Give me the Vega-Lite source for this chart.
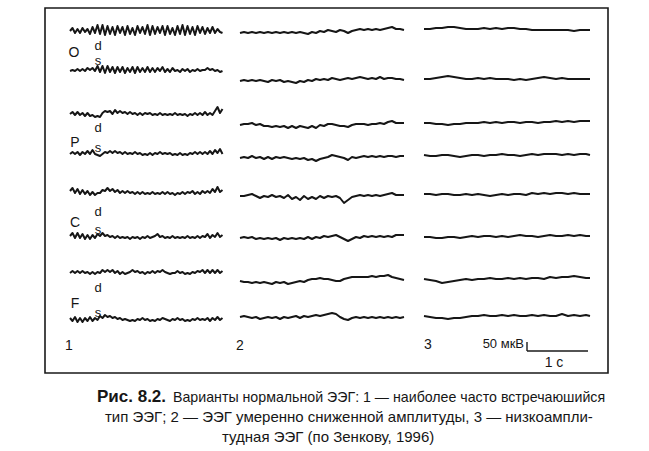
{
  "$schema": "https://vega.github.io/schema/vega-lite/v6.json",
  "width": 649,
  "height": 451,
  "padding": 0,
  "autosize": {"type": "fit", "contains": "padding"},
  "background": "white",
  "config": {"view": {"stroke": null}},
  "encoding": {
    "x": {"field": "x", "type": "quantitative", "scale": {"domain": [0, 649], "nice": false, "zero": false}, "axis": null},
    "y": {"field": "y", "type": "quantitative", "scale": {"domain": [0, 451], "nice": false, "zero": false, "reverse": true}, "axis": null}
  },
  "layer": [
    {
      "data": {"values": [{"x": 45, "x2": 608, "y": 8, "y2": 373}]},
      "mark": {"type": "rect", "filled": false, "stroke": "#1a1a1a", "strokeWidth": 1.6},
      "encoding": {"x2": {"field": "x2"}, "y2": {"field": "y2"}}
    },
    {
      "data": {"values": [{"x": 527, "x2": 527, "y": 342, "y2": 351}, {"x": 527, "x2": 588, "y": 351, "y2": 351}]},
      "mark": {"type": "rule", "stroke": "#1a1a1a", "strokeWidth": 1.4},
      "encoding": {"x2": {"field": "x2"}, "y2": {"field": "y2"}}
    },
    {
      "data": {"values": [
{"i":"1Od","x":70,"y":31},{"i":"1Od","x":72.5,"y":28},{"i":"1Od","x":75,"y":33},{"i":"1Od","x":77.5,"y":29},{"i":"1Od","x":80,"y":33},{"i":"1Od","x":82.5,"y":28},{"i":"1Od","x":85,"y":32},{"i":"1Od","x":87.5,"y":29},{"i":"1Od","x":90,"y":34},{"i":"1Od","x":92.5,"y":27},{"i":"1Od","x":95,"y":33},{"i":"1Od","x":97.5,"y":25},{"i":"1Od","x":100,"y":34},{"i":"1Od","x":102.5,"y":25},{"i":"1Od","x":105,"y":35},{"i":"1Od","x":107.5,"y":26},{"i":"1Od","x":110,"y":34},{"i":"1Od","x":112.5,"y":27},{"i":"1Od","x":115,"y":35},{"i":"1Od","x":117.5,"y":26},{"i":"1Od","x":120,"y":33},{"i":"1Od","x":122.5,"y":27},{"i":"1Od","x":125,"y":35},{"i":"1Od","x":127.5,"y":26},{"i":"1Od","x":130,"y":34},{"i":"1Od","x":132.5,"y":28},{"i":"1Od","x":135,"y":35},{"i":"1Od","x":137.5,"y":26},{"i":"1Od","x":140,"y":33},{"i":"1Od","x":142.5,"y":27},{"i":"1Od","x":145,"y":34},{"i":"1Od","x":147.5,"y":25},{"i":"1Od","x":150,"y":35},{"i":"1Od","x":152.5,"y":26},{"i":"1Od","x":155,"y":34},{"i":"1Od","x":157.5,"y":27},{"i":"1Od","x":160,"y":33},{"i":"1Od","x":162.5,"y":26},{"i":"1Od","x":165,"y":35},{"i":"1Od","x":167.5,"y":26},{"i":"1Od","x":170,"y":34},{"i":"1Od","x":172.5,"y":28},{"i":"1Od","x":175,"y":35},{"i":"1Od","x":177.5,"y":26},{"i":"1Od","x":180,"y":34},{"i":"1Od","x":182.5,"y":25},{"i":"1Od","x":185,"y":35},{"i":"1Od","x":187.5,"y":26},{"i":"1Od","x":190,"y":34},{"i":"1Od","x":192.5,"y":27},{"i":"1Od","x":195,"y":35},{"i":"1Od","x":197.5,"y":26},{"i":"1Od","x":200,"y":33},{"i":"1Od","x":202.5,"y":27},{"i":"1Od","x":205,"y":34},{"i":"1Od","x":207.5,"y":28},{"i":"1Od","x":210,"y":33},{"i":"1Od","x":212.5,"y":27},{"i":"1Od","x":215,"y":33},{"i":"1Od","x":217.5,"y":29},{"i":"1Od","x":220,"y":32},{"i":"1Od","x":222.5,"y":33},
{"i":"1Os","x":70,"y":71},{"i":"1Os","x":72.5,"y":70},{"i":"1Os","x":75,"y":71},{"i":"1Os","x":77.5,"y":69},{"i":"1Os","x":80,"y":71},{"i":"1Os","x":82.5,"y":69},{"i":"1Os","x":85,"y":71},{"i":"1Os","x":87.5,"y":68},{"i":"1Os","x":90,"y":70},{"i":"1Os","x":92.5,"y":68},{"i":"1Os","x":95,"y":71},{"i":"1Os","x":97.5,"y":66},{"i":"1Os","x":100,"y":72},{"i":"1Os","x":102.5,"y":66},{"i":"1Os","x":105,"y":73},{"i":"1Os","x":107.5,"y":66},{"i":"1Os","x":110,"y":72},{"i":"1Os","x":112.5,"y":67},{"i":"1Os","x":115,"y":73},{"i":"1Os","x":117.5,"y":67},{"i":"1Os","x":120,"y":72},{"i":"1Os","x":122.5,"y":67},{"i":"1Os","x":125,"y":73},{"i":"1Os","x":127.5,"y":68},{"i":"1Os","x":130,"y":72},{"i":"1Os","x":132.5,"y":67},{"i":"1Os","x":135,"y":73},{"i":"1Os","x":137.5,"y":67},{"i":"1Os","x":140,"y":72},{"i":"1Os","x":142.5,"y":68},{"i":"1Os","x":145,"y":72},{"i":"1Os","x":147.5,"y":67},{"i":"1Os","x":150,"y":72},{"i":"1Os","x":152.5,"y":68},{"i":"1Os","x":155,"y":72},{"i":"1Os","x":157.5,"y":68},{"i":"1Os","x":160,"y":71},{"i":"1Os","x":162.5,"y":67},{"i":"1Os","x":165,"y":72},{"i":"1Os","x":167.5,"y":69},{"i":"1Os","x":170,"y":72},{"i":"1Os","x":172.5,"y":68},{"i":"1Os","x":175,"y":71},{"i":"1Os","x":177.5,"y":70},{"i":"1Os","x":180,"y":72},{"i":"1Os","x":182.5,"y":69},{"i":"1Os","x":185,"y":71},{"i":"1Os","x":187.5,"y":69},{"i":"1Os","x":190,"y":72},{"i":"1Os","x":192.5,"y":70},{"i":"1Os","x":195,"y":71},{"i":"1Os","x":197.5,"y":69},{"i":"1Os","x":200,"y":71},{"i":"1Os","x":202.5,"y":70},{"i":"1Os","x":205,"y":70},{"i":"1Os","x":207.5,"y":68},{"i":"1Os","x":210,"y":70},{"i":"1Os","x":212.5,"y":69},{"i":"1Os","x":215,"y":71},{"i":"1Os","x":217.5,"y":70},{"i":"1Os","x":220,"y":72},{"i":"1Os","x":222.5,"y":71},
{"i":"1Pd","x":70,"y":114},{"i":"1Pd","x":72.5,"y":112},{"i":"1Pd","x":75,"y":115},{"i":"1Pd","x":77.5,"y":112},{"i":"1Pd","x":80,"y":115},{"i":"1Pd","x":82.5,"y":113},{"i":"1Pd","x":85,"y":116},{"i":"1Pd","x":87.5,"y":113},{"i":"1Pd","x":90,"y":116},{"i":"1Pd","x":92.5,"y":115},{"i":"1Pd","x":95,"y":117},{"i":"1Pd","x":97.5,"y":116},{"i":"1Pd","x":100,"y":117},{"i":"1Pd","x":102.5,"y":113},{"i":"1Pd","x":105,"y":111},{"i":"1Pd","x":107.5,"y":112},{"i":"1Pd","x":110,"y":111},{"i":"1Pd","x":112.5,"y":114},{"i":"1Pd","x":115,"y":110},{"i":"1Pd","x":117.5,"y":113},{"i":"1Pd","x":120,"y":111},{"i":"1Pd","x":122.5,"y":113},{"i":"1Pd","x":125,"y":112},{"i":"1Pd","x":127.5,"y":114},{"i":"1Pd","x":130,"y":112},{"i":"1Pd","x":132.5,"y":114},{"i":"1Pd","x":135,"y":113},{"i":"1Pd","x":137.5,"y":115},{"i":"1Pd","x":140,"y":113},{"i":"1Pd","x":142.5,"y":115},{"i":"1Pd","x":145,"y":113},{"i":"1Pd","x":147.5,"y":114},{"i":"1Pd","x":150,"y":113},{"i":"1Pd","x":152.5,"y":115},{"i":"1Pd","x":155,"y":114},{"i":"1Pd","x":157.5,"y":115},{"i":"1Pd","x":160,"y":113},{"i":"1Pd","x":162.5,"y":115},{"i":"1Pd","x":165,"y":114},{"i":"1Pd","x":167.5,"y":115},{"i":"1Pd","x":170,"y":114},{"i":"1Pd","x":172.5,"y":115},{"i":"1Pd","x":175,"y":113},{"i":"1Pd","x":177.5,"y":115},{"i":"1Pd","x":180,"y":114},{"i":"1Pd","x":182.5,"y":115},{"i":"1Pd","x":185,"y":114},{"i":"1Pd","x":187.5,"y":116},{"i":"1Pd","x":190,"y":114},{"i":"1Pd","x":192.5,"y":115},{"i":"1Pd","x":195,"y":113},{"i":"1Pd","x":197.5,"y":115},{"i":"1Pd","x":200,"y":113},{"i":"1Pd","x":202.5,"y":115},{"i":"1Pd","x":205,"y":112},{"i":"1Pd","x":207.5,"y":115},{"i":"1Pd","x":210,"y":113},{"i":"1Pd","x":212.5,"y":115},{"i":"1Pd","x":215,"y":111},{"i":"1Pd","x":217.5,"y":107},{"i":"1Pd","x":220,"y":113},{"i":"1Pd","x":222.5,"y":109},
{"i":"1Ps","x":70,"y":154},{"i":"1Ps","x":72.5,"y":152},{"i":"1Ps","x":75,"y":154},{"i":"1Ps","x":77.5,"y":152},{"i":"1Ps","x":80,"y":155},{"i":"1Ps","x":82.5,"y":152},{"i":"1Ps","x":85,"y":154},{"i":"1Ps","x":87.5,"y":151},{"i":"1Ps","x":90,"y":154},{"i":"1Ps","x":92.5,"y":150},{"i":"1Ps","x":95,"y":154},{"i":"1Ps","x":97.5,"y":155},{"i":"1Ps","x":100,"y":156},{"i":"1Ps","x":102.5,"y":154},{"i":"1Ps","x":105,"y":152},{"i":"1Ps","x":107.5,"y":153},{"i":"1Ps","x":110,"y":151},{"i":"1Ps","x":112.5,"y":153},{"i":"1Ps","x":115,"y":151},{"i":"1Ps","x":117.5,"y":153},{"i":"1Ps","x":120,"y":152},{"i":"1Ps","x":122.5,"y":154},{"i":"1Ps","x":125,"y":152},{"i":"1Ps","x":127.5,"y":154},{"i":"1Ps","x":130,"y":153},{"i":"1Ps","x":132.5,"y":154},{"i":"1Ps","x":135,"y":152},{"i":"1Ps","x":137.5,"y":154},{"i":"1Ps","x":140,"y":153},{"i":"1Ps","x":142.5,"y":155},{"i":"1Ps","x":145,"y":154},{"i":"1Ps","x":147.5,"y":155},{"i":"1Ps","x":150,"y":153},{"i":"1Ps","x":152.5,"y":155},{"i":"1Ps","x":155,"y":153},{"i":"1Ps","x":157.5,"y":154},{"i":"1Ps","x":160,"y":152},{"i":"1Ps","x":162.5,"y":154},{"i":"1Ps","x":165,"y":153},{"i":"1Ps","x":167.5,"y":154},{"i":"1Ps","x":170,"y":153},{"i":"1Ps","x":172.5,"y":155},{"i":"1Ps","x":175,"y":154},{"i":"1Ps","x":177.5,"y":155},{"i":"1Ps","x":180,"y":153},{"i":"1Ps","x":182.5,"y":155},{"i":"1Ps","x":185,"y":154},{"i":"1Ps","x":187.5,"y":155},{"i":"1Ps","x":190,"y":153},{"i":"1Ps","x":192.5,"y":154},{"i":"1Ps","x":195,"y":152},{"i":"1Ps","x":197.5,"y":154},{"i":"1Ps","x":200,"y":152},{"i":"1Ps","x":202.5,"y":154},{"i":"1Ps","x":205,"y":152},{"i":"1Ps","x":207.5,"y":154},{"i":"1Ps","x":210,"y":151},{"i":"1Ps","x":212.5,"y":154},{"i":"1Ps","x":215,"y":150},{"i":"1Ps","x":217.5,"y":153},{"i":"1Ps","x":220,"y":149},{"i":"1Ps","x":222.5,"y":154},
{"i":"1Cd","x":70,"y":191},{"i":"1Cd","x":72.5,"y":188},{"i":"1Cd","x":75,"y":193},{"i":"1Cd","x":77.5,"y":189},{"i":"1Cd","x":80,"y":194},{"i":"1Cd","x":82.5,"y":190},{"i":"1Cd","x":85,"y":194},{"i":"1Cd","x":87.5,"y":191},{"i":"1Cd","x":90,"y":195},{"i":"1Cd","x":92.5,"y":192},{"i":"1Cd","x":95,"y":195},{"i":"1Cd","x":97.5,"y":193},{"i":"1Cd","x":100,"y":193},{"i":"1Cd","x":102.5,"y":190},{"i":"1Cd","x":105,"y":191},{"i":"1Cd","x":107.5,"y":188},{"i":"1Cd","x":110,"y":191},{"i":"1Cd","x":112.5,"y":189},{"i":"1Cd","x":115,"y":192},{"i":"1Cd","x":117.5,"y":190},{"i":"1Cd","x":120,"y":193},{"i":"1Cd","x":122.5,"y":191},{"i":"1Cd","x":125,"y":193},{"i":"1Cd","x":127.5,"y":191},{"i":"1Cd","x":130,"y":193},{"i":"1Cd","x":132.5,"y":192},{"i":"1Cd","x":135,"y":194},{"i":"1Cd","x":137.5,"y":192},{"i":"1Cd","x":140,"y":194},{"i":"1Cd","x":142.5,"y":192},{"i":"1Cd","x":145,"y":194},{"i":"1Cd","x":147.5,"y":193},{"i":"1Cd","x":150,"y":194},{"i":"1Cd","x":152.5,"y":192},{"i":"1Cd","x":155,"y":194},{"i":"1Cd","x":157.5,"y":193},{"i":"1Cd","x":160,"y":194},{"i":"1Cd","x":162.5,"y":192},{"i":"1Cd","x":165,"y":194},{"i":"1Cd","x":167.5,"y":192},{"i":"1Cd","x":170,"y":194},{"i":"1Cd","x":172.5,"y":193},{"i":"1Cd","x":175,"y":195},{"i":"1Cd","x":177.5,"y":193},{"i":"1Cd","x":180,"y":194},{"i":"1Cd","x":182.5,"y":192},{"i":"1Cd","x":185,"y":194},{"i":"1Cd","x":187.5,"y":192},{"i":"1Cd","x":190,"y":193},{"i":"1Cd","x":192.5,"y":191},{"i":"1Cd","x":195,"y":194},{"i":"1Cd","x":197.5,"y":192},{"i":"1Cd","x":200,"y":194},{"i":"1Cd","x":202.5,"y":191},{"i":"1Cd","x":205,"y":193},{"i":"1Cd","x":207.5,"y":191},{"i":"1Cd","x":210,"y":193},{"i":"1Cd","x":212.5,"y":189},{"i":"1Cd","x":215,"y":192},{"i":"1Cd","x":217.5,"y":187},{"i":"1Cd","x":220,"y":192},{"i":"1Cd","x":222.5,"y":190},
{"i":"1Cs","x":70,"y":236},{"i":"1Cs","x":72.5,"y":233},{"i":"1Cs","x":75,"y":238},{"i":"1Cs","x":77.5,"y":233},{"i":"1Cs","x":80,"y":238},{"i":"1Cs","x":82.5,"y":234},{"i":"1Cs","x":85,"y":239},{"i":"1Cs","x":87.5,"y":235},{"i":"1Cs","x":90,"y":239},{"i":"1Cs","x":92.5,"y":235},{"i":"1Cs","x":95,"y":238},{"i":"1Cs","x":97.5,"y":234},{"i":"1Cs","x":100,"y":236},{"i":"1Cs","x":102.5,"y":233},{"i":"1Cs","x":105,"y":236},{"i":"1Cs","x":107.5,"y":235},{"i":"1Cs","x":110,"y":237},{"i":"1Cs","x":112.5,"y":236},{"i":"1Cs","x":115,"y":238},{"i":"1Cs","x":117.5,"y":236},{"i":"1Cs","x":120,"y":238},{"i":"1Cs","x":122.5,"y":237},{"i":"1Cs","x":125,"y":238},{"i":"1Cs","x":127.5,"y":237},{"i":"1Cs","x":130,"y":239},{"i":"1Cs","x":132.5,"y":237},{"i":"1Cs","x":135,"y":238},{"i":"1Cs","x":137.5,"y":237},{"i":"1Cs","x":140,"y":239},{"i":"1Cs","x":142.5,"y":237},{"i":"1Cs","x":145,"y":238},{"i":"1Cs","x":147.5,"y":236},{"i":"1Cs","x":150,"y":238},{"i":"1Cs","x":152.5,"y":237},{"i":"1Cs","x":155,"y":236},{"i":"1Cs","x":157.5,"y":234},{"i":"1Cs","x":160,"y":237},{"i":"1Cs","x":162.5,"y":236},{"i":"1Cs","x":165,"y":238},{"i":"1Cs","x":167.5,"y":237},{"i":"1Cs","x":170,"y":238},{"i":"1Cs","x":172.5,"y":236},{"i":"1Cs","x":175,"y":238},{"i":"1Cs","x":177.5,"y":237},{"i":"1Cs","x":180,"y":238},{"i":"1Cs","x":182.5,"y":237},{"i":"1Cs","x":185,"y":238},{"i":"1Cs","x":187.5,"y":236},{"i":"1Cs","x":190,"y":238},{"i":"1Cs","x":192.5,"y":237},{"i":"1Cs","x":195,"y":238},{"i":"1Cs","x":197.5,"y":236},{"i":"1Cs","x":200,"y":238},{"i":"1Cs","x":202.5,"y":236},{"i":"1Cs","x":205,"y":237},{"i":"1Cs","x":207.5,"y":234},{"i":"1Cs","x":210,"y":238},{"i":"1Cs","x":212.5,"y":235},{"i":"1Cs","x":215,"y":237},{"i":"1Cs","x":217.5,"y":233},{"i":"1Cs","x":220,"y":237},{"i":"1Cs","x":222.5,"y":235},
{"i":"1Fd","x":70,"y":273},{"i":"1Fd","x":72.5,"y":271},{"i":"1Fd","x":75,"y":273},{"i":"1Fd","x":77.5,"y":271},{"i":"1Fd","x":80,"y":273},{"i":"1Fd","x":82.5,"y":271},{"i":"1Fd","x":85,"y":273},{"i":"1Fd","x":87.5,"y":272},{"i":"1Fd","x":90,"y":274},{"i":"1Fd","x":92.5,"y":272},{"i":"1Fd","x":95,"y":274},{"i":"1Fd","x":97.5,"y":272},{"i":"1Fd","x":100,"y":273},{"i":"1Fd","x":102.5,"y":270},{"i":"1Fd","x":105,"y":272},{"i":"1Fd","x":107.5,"y":270},{"i":"1Fd","x":110,"y":272},{"i":"1Fd","x":112.5,"y":270},{"i":"1Fd","x":115,"y":273},{"i":"1Fd","x":117.5,"y":271},{"i":"1Fd","x":120,"y":274},{"i":"1Fd","x":122.5,"y":272},{"i":"1Fd","x":125,"y":274},{"i":"1Fd","x":127.5,"y":273},{"i":"1Fd","x":130,"y":272},{"i":"1Fd","x":132.5,"y":270},{"i":"1Fd","x":135,"y":272},{"i":"1Fd","x":137.5,"y":271},{"i":"1Fd","x":140,"y":273},{"i":"1Fd","x":142.5,"y":272},{"i":"1Fd","x":145,"y":274},{"i":"1Fd","x":147.5,"y":272},{"i":"1Fd","x":150,"y":273},{"i":"1Fd","x":152.5,"y":271},{"i":"1Fd","x":155,"y":273},{"i":"1Fd","x":157.5,"y":271},{"i":"1Fd","x":160,"y":272},{"i":"1Fd","x":162.5,"y":270},{"i":"1Fd","x":165,"y":272},{"i":"1Fd","x":167.5,"y":273},{"i":"1Fd","x":170,"y":274},{"i":"1Fd","x":172.5,"y":273},{"i":"1Fd","x":175,"y":273},{"i":"1Fd","x":177.5,"y":271},{"i":"1Fd","x":180,"y":273},{"i":"1Fd","x":182.5,"y":272},{"i":"1Fd","x":185,"y":274},{"i":"1Fd","x":187.5,"y":273},{"i":"1Fd","x":190,"y":274},{"i":"1Fd","x":192.5,"y":272},{"i":"1Fd","x":195,"y":273},{"i":"1Fd","x":197.5,"y":271},{"i":"1Fd","x":200,"y":272},{"i":"1Fd","x":202.5,"y":270},{"i":"1Fd","x":205,"y":273},{"i":"1Fd","x":207.5,"y":270},{"i":"1Fd","x":210,"y":273},{"i":"1Fd","x":212.5,"y":270},{"i":"1Fd","x":215,"y":273},{"i":"1Fd","x":217.5,"y":270},{"i":"1Fd","x":220,"y":273},{"i":"1Fd","x":222.5,"y":271},
{"i":"1Fs","x":70,"y":318},{"i":"1Fs","x":72.5,"y":321},{"i":"1Fs","x":75,"y":317},{"i":"1Fs","x":77.5,"y":322},{"i":"1Fs","x":80,"y":318},{"i":"1Fs","x":82.5,"y":322},{"i":"1Fs","x":85,"y":318},{"i":"1Fs","x":87.5,"y":321},{"i":"1Fs","x":90,"y":317},{"i":"1Fs","x":92.5,"y":321},{"i":"1Fs","x":95,"y":318},{"i":"1Fs","x":97.5,"y":320},{"i":"1Fs","x":100,"y":316},{"i":"1Fs","x":102.5,"y":318},{"i":"1Fs","x":105,"y":315},{"i":"1Fs","x":107.5,"y":317},{"i":"1Fs","x":110,"y":316},{"i":"1Fs","x":112.5,"y":318},{"i":"1Fs","x":115,"y":317},{"i":"1Fs","x":117.5,"y":319},{"i":"1Fs","x":120,"y":318},{"i":"1Fs","x":122.5,"y":320},{"i":"1Fs","x":125,"y":319},{"i":"1Fs","x":127.5,"y":320},{"i":"1Fs","x":130,"y":321},{"i":"1Fs","x":132.5,"y":320},{"i":"1Fs","x":135,"y":321},{"i":"1Fs","x":137.5,"y":319},{"i":"1Fs","x":140,"y":320},{"i":"1Fs","x":142.5,"y":318},{"i":"1Fs","x":145,"y":320},{"i":"1Fs","x":147.5,"y":319},{"i":"1Fs","x":150,"y":321},{"i":"1Fs","x":152.5,"y":320},{"i":"1Fs","x":155,"y":321},{"i":"1Fs","x":157.5,"y":319},{"i":"1Fs","x":160,"y":320},{"i":"1Fs","x":162.5,"y":318},{"i":"1Fs","x":165,"y":319},{"i":"1Fs","x":167.5,"y":320},{"i":"1Fs","x":170,"y":321},{"i":"1Fs","x":172.5,"y":319},{"i":"1Fs","x":175,"y":320},{"i":"1Fs","x":177.5,"y":318},{"i":"1Fs","x":180,"y":320},{"i":"1Fs","x":182.5,"y":319},{"i":"1Fs","x":185,"y":321},{"i":"1Fs","x":187.5,"y":320},{"i":"1Fs","x":190,"y":321},{"i":"1Fs","x":192.5,"y":319},{"i":"1Fs","x":195,"y":320},{"i":"1Fs","x":197.5,"y":318},{"i":"1Fs","x":200,"y":320},{"i":"1Fs","x":202.5,"y":319},{"i":"1Fs","x":205,"y":320},{"i":"1Fs","x":207.5,"y":318},{"i":"1Fs","x":210,"y":321},{"i":"1Fs","x":212.5,"y":318},{"i":"1Fs","x":215,"y":320},{"i":"1Fs","x":217.5,"y":317},{"i":"1Fs","x":220,"y":320},{"i":"1Fs","x":222.5,"y":318},
{"i":"2Od","x":240,"y":33},{"i":"2Od","x":244,"y":32},{"i":"2Od","x":248,"y":33},{"i":"2Od","x":252,"y":32},{"i":"2Od","x":256,"y":33},{"i":"2Od","x":260,"y":32},{"i":"2Od","x":264,"y":33},{"i":"2Od","x":268,"y":32},{"i":"2Od","x":272,"y":33},{"i":"2Od","x":276,"y":32},{"i":"2Od","x":280,"y":33},{"i":"2Od","x":284,"y":32},{"i":"2Od","x":288,"y":33},{"i":"2Od","x":292,"y":32},{"i":"2Od","x":296,"y":33},{"i":"2Od","x":300,"y":32},{"i":"2Od","x":304,"y":33},{"i":"2Od","x":308,"y":34},{"i":"2Od","x":312,"y":32},{"i":"2Od","x":316,"y":33},{"i":"2Od","x":320,"y":31},{"i":"2Od","x":324,"y":32},{"i":"2Od","x":328,"y":30},{"i":"2Od","x":332,"y":31},{"i":"2Od","x":336,"y":32},{"i":"2Od","x":340,"y":30},{"i":"2Od","x":344,"y":31},{"i":"2Od","x":348,"y":33},{"i":"2Od","x":352,"y":31},{"i":"2Od","x":356,"y":30},{"i":"2Od","x":360,"y":29},{"i":"2Od","x":364,"y":30},{"i":"2Od","x":368,"y":29},{"i":"2Od","x":372,"y":30},{"i":"2Od","x":376,"y":29},{"i":"2Od","x":380,"y":30},{"i":"2Od","x":384,"y":29},{"i":"2Od","x":388,"y":28},{"i":"2Od","x":392,"y":27},{"i":"2Od","x":396,"y":29},{"i":"2Od","x":400,"y":29},{"i":"2Od","x":404,"y":30},
{"i":"2Os","x":240,"y":81},{"i":"2Os","x":244,"y":80},{"i":"2Os","x":248,"y":81},{"i":"2Os","x":252,"y":80},{"i":"2Os","x":256,"y":81},{"i":"2Os","x":260,"y":80},{"i":"2Os","x":264,"y":81},{"i":"2Os","x":268,"y":82},{"i":"2Os","x":272,"y":80},{"i":"2Os","x":276,"y":81},{"i":"2Os","x":280,"y":80},{"i":"2Os","x":284,"y":82},{"i":"2Os","x":288,"y":81},{"i":"2Os","x":292,"y":82},{"i":"2Os","x":296,"y":83},{"i":"2Os","x":300,"y":81},{"i":"2Os","x":304,"y":82},{"i":"2Os","x":308,"y":80},{"i":"2Os","x":312,"y":81},{"i":"2Os","x":316,"y":79},{"i":"2Os","x":320,"y":80},{"i":"2Os","x":324,"y":79},{"i":"2Os","x":328,"y":80},{"i":"2Os","x":332,"y":78},{"i":"2Os","x":336,"y":79},{"i":"2Os","x":340,"y":80},{"i":"2Os","x":344,"y":79},{"i":"2Os","x":348,"y":78},{"i":"2Os","x":352,"y":79},{"i":"2Os","x":356,"y":78},{"i":"2Os","x":360,"y":77},{"i":"2Os","x":364,"y":78},{"i":"2Os","x":368,"y":79},{"i":"2Os","x":372,"y":78},{"i":"2Os","x":376,"y":79},{"i":"2Os","x":380,"y":77},{"i":"2Os","x":384,"y":79},{"i":"2Os","x":388,"y":78},{"i":"2Os","x":392,"y":78},{"i":"2Os","x":396,"y":79},{"i":"2Os","x":400,"y":79},{"i":"2Os","x":404,"y":80},
{"i":"2Pd","x":240,"y":125},{"i":"2Pd","x":244,"y":124},{"i":"2Pd","x":248,"y":124},{"i":"2Pd","x":252,"y":123},{"i":"2Pd","x":256,"y":125},{"i":"2Pd","x":260,"y":124},{"i":"2Pd","x":264,"y":126},{"i":"2Pd","x":268,"y":126},{"i":"2Pd","x":272,"y":127},{"i":"2Pd","x":276,"y":126},{"i":"2Pd","x":280,"y":127},{"i":"2Pd","x":284,"y":126},{"i":"2Pd","x":288,"y":128},{"i":"2Pd","x":292,"y":126},{"i":"2Pd","x":296,"y":128},{"i":"2Pd","x":300,"y":126},{"i":"2Pd","x":304,"y":127},{"i":"2Pd","x":308,"y":128},{"i":"2Pd","x":312,"y":126},{"i":"2Pd","x":316,"y":128},{"i":"2Pd","x":320,"y":125},{"i":"2Pd","x":324,"y":126},{"i":"2Pd","x":328,"y":124},{"i":"2Pd","x":332,"y":124},{"i":"2Pd","x":336,"y":125},{"i":"2Pd","x":340,"y":126},{"i":"2Pd","x":344,"y":126},{"i":"2Pd","x":348,"y":127},{"i":"2Pd","x":352,"y":125},{"i":"2Pd","x":356,"y":124},{"i":"2Pd","x":360,"y":124},{"i":"2Pd","x":364,"y":124},{"i":"2Pd","x":368,"y":125},{"i":"2Pd","x":372,"y":124},{"i":"2Pd","x":376,"y":124},{"i":"2Pd","x":380,"y":123},{"i":"2Pd","x":384,"y":124},{"i":"2Pd","x":388,"y":122},{"i":"2Pd","x":392,"y":121},{"i":"2Pd","x":396,"y":123},{"i":"2Pd","x":400,"y":123},{"i":"2Pd","x":404,"y":123},
{"i":"2Ps","x":240,"y":158},{"i":"2Ps","x":244,"y":157},{"i":"2Ps","x":248,"y":158},{"i":"2Ps","x":252,"y":156},{"i":"2Ps","x":256,"y":158},{"i":"2Ps","x":260,"y":157},{"i":"2Ps","x":264,"y":159},{"i":"2Ps","x":268,"y":157},{"i":"2Ps","x":272,"y":159},{"i":"2Ps","x":276,"y":157},{"i":"2Ps","x":280,"y":158},{"i":"2Ps","x":284,"y":157},{"i":"2Ps","x":288,"y":158},{"i":"2Ps","x":292,"y":159},{"i":"2Ps","x":296,"y":158},{"i":"2Ps","x":300,"y":159},{"i":"2Ps","x":304,"y":158},{"i":"2Ps","x":308,"y":160},{"i":"2Ps","x":312,"y":159},{"i":"2Ps","x":316,"y":161},{"i":"2Ps","x":320,"y":159},{"i":"2Ps","x":324,"y":158},{"i":"2Ps","x":328,"y":157},{"i":"2Ps","x":332,"y":155},{"i":"2Ps","x":336,"y":156},{"i":"2Ps","x":340,"y":157},{"i":"2Ps","x":344,"y":158},{"i":"2Ps","x":348,"y":160},{"i":"2Ps","x":352,"y":157},{"i":"2Ps","x":356,"y":158},{"i":"2Ps","x":360,"y":157},{"i":"2Ps","x":364,"y":156},{"i":"2Ps","x":368,"y":157},{"i":"2Ps","x":372,"y":156},{"i":"2Ps","x":376,"y":157},{"i":"2Ps","x":380,"y":156},{"i":"2Ps","x":384,"y":157},{"i":"2Ps","x":388,"y":156},{"i":"2Ps","x":392,"y":156},{"i":"2Ps","x":396,"y":157},{"i":"2Ps","x":400,"y":156},{"i":"2Ps","x":404,"y":156},
{"i":"2Cd","x":240,"y":196},{"i":"2Cd","x":244,"y":196},{"i":"2Cd","x":248,"y":195},{"i":"2Cd","x":252,"y":194},{"i":"2Cd","x":256,"y":196},{"i":"2Cd","x":260,"y":198},{"i":"2Cd","x":264,"y":196},{"i":"2Cd","x":268,"y":197},{"i":"2Cd","x":272,"y":195},{"i":"2Cd","x":276,"y":197},{"i":"2Cd","x":280,"y":196},{"i":"2Cd","x":284,"y":198},{"i":"2Cd","x":288,"y":195},{"i":"2Cd","x":292,"y":199},{"i":"2Cd","x":296,"y":197},{"i":"2Cd","x":300,"y":200},{"i":"2Cd","x":304,"y":196},{"i":"2Cd","x":308,"y":199},{"i":"2Cd","x":312,"y":197},{"i":"2Cd","x":316,"y":199},{"i":"2Cd","x":320,"y":196},{"i":"2Cd","x":324,"y":198},{"i":"2Cd","x":328,"y":196},{"i":"2Cd","x":332,"y":197},{"i":"2Cd","x":336,"y":196},{"i":"2Cd","x":340,"y":198},{"i":"2Cd","x":344,"y":203},{"i":"2Cd","x":348,"y":200},{"i":"2Cd","x":352,"y":197},{"i":"2Cd","x":356,"y":196},{"i":"2Cd","x":360,"y":195},{"i":"2Cd","x":364,"y":196},{"i":"2Cd","x":368,"y":195},{"i":"2Cd","x":372,"y":196},{"i":"2Cd","x":376,"y":195},{"i":"2Cd","x":380,"y":196},{"i":"2Cd","x":384,"y":195},{"i":"2Cd","x":388,"y":194},{"i":"2Cd","x":392,"y":193},{"i":"2Cd","x":396,"y":195},{"i":"2Cd","x":400,"y":195},{"i":"2Cd","x":404,"y":195},
{"i":"2Cs","x":240,"y":238},{"i":"2Cs","x":244,"y":237},{"i":"2Cs","x":248,"y":238},{"i":"2Cs","x":252,"y":237},{"i":"2Cs","x":256,"y":239},{"i":"2Cs","x":260,"y":238},{"i":"2Cs","x":264,"y":239},{"i":"2Cs","x":268,"y":238},{"i":"2Cs","x":272,"y":239},{"i":"2Cs","x":276,"y":238},{"i":"2Cs","x":280,"y":240},{"i":"2Cs","x":284,"y":238},{"i":"2Cs","x":288,"y":239},{"i":"2Cs","x":292,"y":238},{"i":"2Cs","x":296,"y":239},{"i":"2Cs","x":300,"y":238},{"i":"2Cs","x":304,"y":239},{"i":"2Cs","x":308,"y":237},{"i":"2Cs","x":312,"y":239},{"i":"2Cs","x":316,"y":237},{"i":"2Cs","x":320,"y":238},{"i":"2Cs","x":324,"y":236},{"i":"2Cs","x":328,"y":237},{"i":"2Cs","x":332,"y":236},{"i":"2Cs","x":336,"y":235},{"i":"2Cs","x":340,"y":237},{"i":"2Cs","x":344,"y":239},{"i":"2Cs","x":348,"y":241},{"i":"2Cs","x":352,"y":239},{"i":"2Cs","x":356,"y":237},{"i":"2Cs","x":360,"y":238},{"i":"2Cs","x":364,"y":236},{"i":"2Cs","x":368,"y":237},{"i":"2Cs","x":372,"y":236},{"i":"2Cs","x":376,"y":237},{"i":"2Cs","x":380,"y":236},{"i":"2Cs","x":384,"y":237},{"i":"2Cs","x":388,"y":236},{"i":"2Cs","x":392,"y":237},{"i":"2Cs","x":396,"y":235},{"i":"2Cs","x":400,"y":235},{"i":"2Cs","x":404,"y":235},
{"i":"2Fd","x":240,"y":281},{"i":"2Fd","x":244,"y":282},{"i":"2Fd","x":248,"y":282},{"i":"2Fd","x":252,"y":283},{"i":"2Fd","x":256,"y":282},{"i":"2Fd","x":260,"y":283},{"i":"2Fd","x":264,"y":282},{"i":"2Fd","x":268,"y":283},{"i":"2Fd","x":272,"y":284},{"i":"2Fd","x":276,"y":282},{"i":"2Fd","x":280,"y":283},{"i":"2Fd","x":284,"y":282},{"i":"2Fd","x":288,"y":284},{"i":"2Fd","x":292,"y":283},{"i":"2Fd","x":296,"y":282},{"i":"2Fd","x":300,"y":281},{"i":"2Fd","x":304,"y":282},{"i":"2Fd","x":308,"y":280},{"i":"2Fd","x":312,"y":279},{"i":"2Fd","x":316,"y":279},{"i":"2Fd","x":320,"y":278},{"i":"2Fd","x":324,"y":279},{"i":"2Fd","x":328,"y":279},{"i":"2Fd","x":332,"y":280},{"i":"2Fd","x":336,"y":281},{"i":"2Fd","x":340,"y":281},{"i":"2Fd","x":344,"y":279},{"i":"2Fd","x":348,"y":278},{"i":"2Fd","x":352,"y":277},{"i":"2Fd","x":356,"y":277},{"i":"2Fd","x":360,"y":277},{"i":"2Fd","x":364,"y":277},{"i":"2Fd","x":368,"y":277},{"i":"2Fd","x":372,"y":276},{"i":"2Fd","x":376,"y":277},{"i":"2Fd","x":380,"y":276},{"i":"2Fd","x":384,"y":276},{"i":"2Fd","x":388,"y":275},{"i":"2Fd","x":392,"y":277},{"i":"2Fd","x":396,"y":278},{"i":"2Fd","x":400,"y":279},{"i":"2Fd","x":404,"y":280},
{"i":"2Fs","x":240,"y":317},{"i":"2Fs","x":244,"y":316},{"i":"2Fs","x":248,"y":317},{"i":"2Fs","x":252,"y":318},{"i":"2Fs","x":256,"y":317},{"i":"2Fs","x":260,"y":319},{"i":"2Fs","x":264,"y":318},{"i":"2Fs","x":268,"y":317},{"i":"2Fs","x":272,"y":318},{"i":"2Fs","x":276,"y":317},{"i":"2Fs","x":280,"y":319},{"i":"2Fs","x":284,"y":317},{"i":"2Fs","x":288,"y":318},{"i":"2Fs","x":292,"y":317},{"i":"2Fs","x":296,"y":316},{"i":"2Fs","x":300,"y":318},{"i":"2Fs","x":304,"y":316},{"i":"2Fs","x":308,"y":317},{"i":"2Fs","x":312,"y":316},{"i":"2Fs","x":316,"y":315},{"i":"2Fs","x":320,"y":316},{"i":"2Fs","x":324,"y":315},{"i":"2Fs","x":328,"y":314},{"i":"2Fs","x":332,"y":313},{"i":"2Fs","x":336,"y":314},{"i":"2Fs","x":340,"y":317},{"i":"2Fs","x":344,"y":319},{"i":"2Fs","x":348,"y":320},{"i":"2Fs","x":352,"y":318},{"i":"2Fs","x":356,"y":317},{"i":"2Fs","x":360,"y":318},{"i":"2Fs","x":364,"y":317},{"i":"2Fs","x":368,"y":318},{"i":"2Fs","x":372,"y":317},{"i":"2Fs","x":376,"y":318},{"i":"2Fs","x":380,"y":317},{"i":"2Fs","x":384,"y":318},{"i":"2Fs","x":388,"y":317},{"i":"2Fs","x":392,"y":318},{"i":"2Fs","x":396,"y":317},{"i":"2Fs","x":400,"y":318},{"i":"2Fs","x":404,"y":317},
{"i":"3Od","x":424,"y":29},{"i":"3Od","x":430,"y":29},{"i":"3Od","x":436,"y":28},{"i":"3Od","x":442,"y":28},{"i":"3Od","x":448,"y":27},{"i":"3Od","x":454,"y":27},{"i":"3Od","x":460,"y":28},{"i":"3Od","x":466,"y":29},{"i":"3Od","x":472,"y":29},{"i":"3Od","x":478,"y":29},{"i":"3Od","x":484,"y":28},{"i":"3Od","x":490,"y":29},{"i":"3Od","x":496,"y":28},{"i":"3Od","x":502,"y":29},{"i":"3Od","x":508,"y":28},{"i":"3Od","x":514,"y":28},{"i":"3Od","x":520,"y":29},{"i":"3Od","x":526,"y":29},{"i":"3Od","x":532,"y":30},{"i":"3Od","x":538,"y":30},{"i":"3Od","x":544,"y":30},{"i":"3Od","x":550,"y":30},{"i":"3Od","x":556,"y":30},{"i":"3Od","x":562,"y":30},{"i":"3Od","x":568,"y":30},{"i":"3Od","x":574,"y":31},{"i":"3Od","x":580,"y":30},{"i":"3Od","x":586,"y":30},{"i":"3Od","x":590,"y":30},
{"i":"3Os","x":424,"y":79},{"i":"3Os","x":430,"y":79},{"i":"3Os","x":436,"y":78},{"i":"3Os","x":442,"y":77},{"i":"3Os","x":448,"y":76},{"i":"3Os","x":454,"y":77},{"i":"3Os","x":460,"y":78},{"i":"3Os","x":466,"y":79},{"i":"3Os","x":472,"y":79},{"i":"3Os","x":478,"y":78},{"i":"3Os","x":484,"y":79},{"i":"3Os","x":490,"y":78},{"i":"3Os","x":496,"y":79},{"i":"3Os","x":502,"y":79},{"i":"3Os","x":508,"y":79},{"i":"3Os","x":514,"y":80},{"i":"3Os","x":520,"y":79},{"i":"3Os","x":526,"y":80},{"i":"3Os","x":532,"y":79},{"i":"3Os","x":538,"y":78},{"i":"3Os","x":544,"y":77},{"i":"3Os","x":550,"y":78},{"i":"3Os","x":556,"y":79},{"i":"3Os","x":562,"y":78},{"i":"3Os","x":568,"y":79},{"i":"3Os","x":574,"y":79},{"i":"3Os","x":580,"y":79},{"i":"3Os","x":586,"y":79},{"i":"3Os","x":590,"y":79},
{"i":"3Pd","x":424,"y":123},{"i":"3Pd","x":430,"y":123},{"i":"3Pd","x":436,"y":124},{"i":"3Pd","x":442,"y":124},{"i":"3Pd","x":448,"y":125},{"i":"3Pd","x":454,"y":124},{"i":"3Pd","x":460,"y":124},{"i":"3Pd","x":466,"y":123},{"i":"3Pd","x":472,"y":123},{"i":"3Pd","x":478,"y":123},{"i":"3Pd","x":484,"y":122},{"i":"3Pd","x":490,"y":123},{"i":"3Pd","x":496,"y":122},{"i":"3Pd","x":502,"y":123},{"i":"3Pd","x":508,"y":122},{"i":"3Pd","x":514,"y":122},{"i":"3Pd","x":520,"y":123},{"i":"3Pd","x":526,"y":122},{"i":"3Pd","x":532,"y":122},{"i":"3Pd","x":538,"y":123},{"i":"3Pd","x":544,"y":122},{"i":"3Pd","x":550,"y":122},{"i":"3Pd","x":556,"y":121},{"i":"3Pd","x":562,"y":122},{"i":"3Pd","x":568,"y":121},{"i":"3Pd","x":574,"y":122},{"i":"3Pd","x":580,"y":121},{"i":"3Pd","x":586,"y":121},{"i":"3Pd","x":590,"y":121},
{"i":"3Ps","x":424,"y":155},{"i":"3Ps","x":430,"y":156},{"i":"3Ps","x":436,"y":156},{"i":"3Ps","x":442,"y":155},{"i":"3Ps","x":448,"y":155},{"i":"3Ps","x":454,"y":156},{"i":"3Ps","x":460,"y":157},{"i":"3Ps","x":466,"y":156},{"i":"3Ps","x":472,"y":155},{"i":"3Ps","x":478,"y":155},{"i":"3Ps","x":484,"y":156},{"i":"3Ps","x":490,"y":155},{"i":"3Ps","x":496,"y":155},{"i":"3Ps","x":502,"y":154},{"i":"3Ps","x":508,"y":155},{"i":"3Ps","x":514,"y":155},{"i":"3Ps","x":520,"y":156},{"i":"3Ps","x":526,"y":155},{"i":"3Ps","x":532,"y":154},{"i":"3Ps","x":538,"y":155},{"i":"3Ps","x":544,"y":154},{"i":"3Ps","x":550,"y":154},{"i":"3Ps","x":556,"y":154},{"i":"3Ps","x":562,"y":155},{"i":"3Ps","x":568,"y":154},{"i":"3Ps","x":574,"y":155},{"i":"3Ps","x":580,"y":154},{"i":"3Ps","x":586,"y":154},{"i":"3Ps","x":590,"y":155},
{"i":"3Cd","x":424,"y":194},{"i":"3Cd","x":430,"y":194},{"i":"3Cd","x":436,"y":195},{"i":"3Cd","x":442,"y":194},{"i":"3Cd","x":448,"y":194},{"i":"3Cd","x":454,"y":195},{"i":"3Cd","x":460,"y":195},{"i":"3Cd","x":466,"y":194},{"i":"3Cd","x":472,"y":195},{"i":"3Cd","x":478,"y":194},{"i":"3Cd","x":484,"y":195},{"i":"3Cd","x":490,"y":196},{"i":"3Cd","x":496,"y":195},{"i":"3Cd","x":502,"y":194},{"i":"3Cd","x":508,"y":195},{"i":"3Cd","x":514,"y":194},{"i":"3Cd","x":520,"y":194},{"i":"3Cd","x":526,"y":195},{"i":"3Cd","x":532,"y":193},{"i":"3Cd","x":538,"y":194},{"i":"3Cd","x":544,"y":193},{"i":"3Cd","x":550,"y":194},{"i":"3Cd","x":556,"y":193},{"i":"3Cd","x":562,"y":193},{"i":"3Cd","x":568,"y":194},{"i":"3Cd","x":574,"y":193},{"i":"3Cd","x":580,"y":194},{"i":"3Cd","x":586,"y":194},{"i":"3Cd","x":590,"y":194},
{"i":"3Cs","x":424,"y":237},{"i":"3Cs","x":430,"y":237},{"i":"3Cs","x":436,"y":238},{"i":"3Cs","x":442,"y":238},{"i":"3Cs","x":448,"y":237},{"i":"3Cs","x":454,"y":237},{"i":"3Cs","x":460,"y":238},{"i":"3Cs","x":466,"y":237},{"i":"3Cs","x":472,"y":236},{"i":"3Cs","x":478,"y":237},{"i":"3Cs","x":484,"y":236},{"i":"3Cs","x":490,"y":236},{"i":"3Cs","x":496,"y":237},{"i":"3Cs","x":502,"y":236},{"i":"3Cs","x":508,"y":237},{"i":"3Cs","x":514,"y":236},{"i":"3Cs","x":520,"y":235},{"i":"3Cs","x":526,"y":236},{"i":"3Cs","x":532,"y":236},{"i":"3Cs","x":538,"y":237},{"i":"3Cs","x":544,"y":236},{"i":"3Cs","x":550,"y":235},{"i":"3Cs","x":556,"y":236},{"i":"3Cs","x":562,"y":236},{"i":"3Cs","x":568,"y":235},{"i":"3Cs","x":574,"y":236},{"i":"3Cs","x":580,"y":235},{"i":"3Cs","x":586,"y":236},{"i":"3Cs","x":590,"y":236},
{"i":"3Fd","x":424,"y":279},{"i":"3Fd","x":430,"y":280},{"i":"3Fd","x":436,"y":281},{"i":"3Fd","x":442,"y":283},{"i":"3Fd","x":448,"y":282},{"i":"3Fd","x":454,"y":281},{"i":"3Fd","x":460,"y":280},{"i":"3Fd","x":466,"y":279},{"i":"3Fd","x":472,"y":280},{"i":"3Fd","x":478,"y":279},{"i":"3Fd","x":484,"y":279},{"i":"3Fd","x":490,"y":278},{"i":"3Fd","x":496,"y":279},{"i":"3Fd","x":502,"y":279},{"i":"3Fd","x":508,"y":278},{"i":"3Fd","x":514,"y":279},{"i":"3Fd","x":520,"y":278},{"i":"3Fd","x":526,"y":279},{"i":"3Fd","x":532,"y":278},{"i":"3Fd","x":538,"y":278},{"i":"3Fd","x":544,"y":279},{"i":"3Fd","x":550,"y":277},{"i":"3Fd","x":556,"y":278},{"i":"3Fd","x":562,"y":277},{"i":"3Fd","x":568,"y":277},{"i":"3Fd","x":574,"y":276},{"i":"3Fd","x":580,"y":277},{"i":"3Fd","x":586,"y":278},{"i":"3Fd","x":590,"y":278},
{"i":"3Fs","x":424,"y":316},{"i":"3Fs","x":430,"y":317},{"i":"3Fs","x":436,"y":318},{"i":"3Fs","x":442,"y":318},{"i":"3Fs","x":448,"y":319},{"i":"3Fs","x":454,"y":318},{"i":"3Fs","x":460,"y":318},{"i":"3Fs","x":466,"y":317},{"i":"3Fs","x":472,"y":316},{"i":"3Fs","x":478,"y":316},{"i":"3Fs","x":484,"y":315},{"i":"3Fs","x":490,"y":316},{"i":"3Fs","x":496,"y":316},{"i":"3Fs","x":502,"y":315},{"i":"3Fs","x":508,"y":316},{"i":"3Fs","x":514,"y":315},{"i":"3Fs","x":520,"y":316},{"i":"3Fs","x":526,"y":316},{"i":"3Fs","x":532,"y":315},{"i":"3Fs","x":538,"y":316},{"i":"3Fs","x":544,"y":315},{"i":"3Fs","x":550,"y":316},{"i":"3Fs","x":556,"y":316},{"i":"3Fs","x":562,"y":314},{"i":"3Fs","x":568,"y":316},{"i":"3Fs","x":574,"y":315},{"i":"3Fs","x":580,"y":316},{"i":"3Fs","x":586,"y":315},{"i":"3Fs","x":590,"y":316}
      ]},
      "mark": {"type": "line", "stroke": "#161616", "strokeWidth": 2, "strokeJoin": "round"},
      "encoding": {"detail": {"field": "i"}}
    },
    {
      "data": {"values": [
        {"t": "O", "x": 74, "y": 57},
        {"t": "P", "x": 75, "y": 147},
        {"t": "C", "x": 75, "y": 227},
        {"t": "F", "x": 75, "y": 308},
        {"t": "1", "x": 69, "y": 350}, {"t": "2", "x": 240, "y": 350}, {"t": "3", "x": 428, "y": 349},
        {"t": "1 с", "x": 554, "y": 367}
      ]},
      "mark": {"type": "text", "align": "center", "baseline": "alphabetic", "font": "Liberation Sans", "fontSize": 14, "fill": "#161616"},
      "encoding": {"text": {"field": "t"}}
    },
    {
      "data": {"values": [
        {"t": "d", "x": 98, "y": 50}, {"t": "s", "x": 98, "y": 65},
        {"t": "d", "x": 98, "y": 132}, {"t": "s", "x": 98, "y": 152},
        {"t": "d", "x": 98, "y": 216}, {"t": "s", "x": 98, "y": 234},
        {"t": "d", "x": 98, "y": 292}, {"t": "s", "x": 98, "y": 317}
      ]},
      "mark": {"type": "text", "align": "center", "baseline": "alphabetic", "font": "Liberation Sans", "fontSize": 13, "fill": "#161616"},
      "encoding": {"text": {"field": "t"}}
    },
    {
      "data": {"values": [{"t": "50 мкВ", "x": 524, "y": 348}]},
      "mark": {"type": "text", "align": "right", "baseline": "alphabetic", "font": "Liberation Sans", "fontSize": 13, "fill": "#161616"},
      "encoding": {"text": {"field": "t"}}
    },
    {
      "data": {"values": [
        {"t": "Варианты нормальной ЭЭГ: 1 — наиболее часто встречаюшийся", "x": 173, "y": 402}
      ]},
      "mark": {"type": "text", "align": "left", "baseline": "alphabetic", "font": "Liberation Sans", "fontSize": 14.2, "fill": "#161616"},
      "encoding": {"text": {"field": "t"}}
    },
    {
      "data": {"values": [
        {"t": "тип ЭЭГ; 2 — ЭЭГ умеренно сниженной амплитуды, 3 — низкоампли-", "x": 105, "y": 422},
        {"t": "тудная ЭЭГ (по Зенкову, 1996)", "x": 222, "y": 442}
      ]},
      "mark": {"type": "text", "align": "left", "baseline": "alphabetic", "font": "Liberation Sans", "fontSize": 15, "fill": "#161616"},
      "encoding": {"text": {"field": "t"}}
    },
    {
      "data": {"values": [{"t": "Рис. 8.2.", "x": 97, "y": 402}]},
      "mark": {"type": "text", "align": "left", "baseline": "alphabetic", "font": "Liberation Sans", "fontSize": 17, "fontWeight": "bold", "fill": "#161616"},
      "encoding": {"text": {"field": "t"}}
    }
  ]
}
